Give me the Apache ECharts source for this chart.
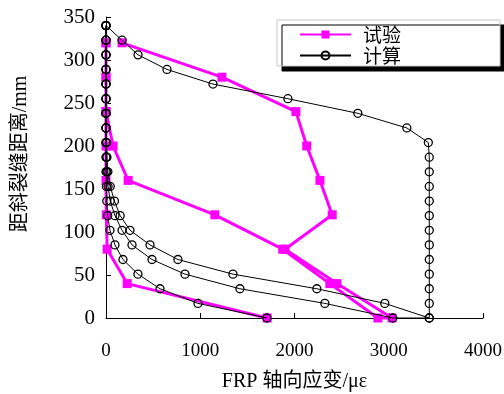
<!DOCTYPE html>
<html>
<head>
<meta charset="utf-8">
<script src="https://cdn.jsdelivr.net/npm/echarts@6/dist/echarts.min.js"></script>
<style>
  html, body { margin: 0; background: #fff; }
  #chart { width: 504px; height: 394px; }
</style>
</head>
<body>
<div id="chart"></div>
<script>
// 试验: distance from crack (mm) and FRP strain (με), three strands
const testDist = [0, 40, 80, 120, 160, 200, 240, 280, 320];
const testUp1 = [1710, 225, 12, 3, 0, 0, 0, 0, 0];
const testDown = [2885, 2375, 1875, 1155, 235, 75, 0, 0, 0];
const testUp2 = [3035, 2450, 1900, 2400, 2270, 2130, 2015, 1230, 170];

// 计算: four strands on a 17 mm step
const calcDist = [0, 17, 34, 51, 68, 85, 102, 119, 136, 153, 170, 187, 204, 221, 238, 255, 272, 289, 306, 323, 340];
const calcA = [1707, 976, 573, 339, 180, 95, 42, 18, 8, 4, 0, 0, 0, 0, 0, 0, 0, 0, 0, 0, 0];
const calcB = [3043, 2322, 1421, 838, 488, 276, 170, 95, 45, 22, 10, 4, 0, 0, 0, 0, 0, 0, 0, 0, 0];
const calcC = [3430, 2958, 2237, 1347, 763, 467, 255, 150, 90, 45, 20, 10, 5, 0, 0, 0, 0, 0, 0, 0, 0];
const calcD = [3430, 3430, 3430, 3430, 3430, 3430, 3430, 3430, 3430, 3430, 3430, 3430, 3420, 3192, 2672, 1930, 1135, 647, 340, 170, 0];

const xTicks = [0, 1000, 2000, 3000, 4000];
const yTicks = [0, 50, 100, 150, 200, 250, 300, 350];

const pairs = (xs, ys) => xs.map((x, i) => [x, ys[i]]);
const testData = [
  ...pairs(testUp1, testDist),
  ...pairs(testDown, testDist).reverse(),
  ...pairs(testUp2, testDist)
];
const calcData = [
  ...pairs(calcA, calcDist),
  ...pairs(calcB, calcDist).reverse(),
  ...pairs(calcC, calcDist),
  ...pairs(calcD, calcDist).reverse()
];

const serif = 'Liberation Serif, Noto Sans CJK SC';
const chart = echarts.init(document.getElementById('chart'));
chart.setOption({
  animation: false,
  grid: { left: 106, right: 21, top: 17, bottom: 76, outerBoundsMode: 'none' },
  legend: {
    orient: 'vertical',
    left: 277,
    top: 20,
    padding: [5, 99, 1, 22],
    itemWidth: 51,
    itemHeight: 10,
    itemGap: 2,
    backgroundColor: '#fff',
    borderColor: '#c8c8c8',
    borderWidth: 1,
    shadowColor: '#000',
    shadowBlur: 0,
    shadowOffsetX: 5,
    shadowOffsetY: 5,
    textStyle: { fontSize: 19, fontFamily: 'Noto Sans CJK SC', color: '#000', padding: [0, 0, 0, 7] },
    data: ['试验', '计算']
  },
  xAxis: {
    type: 'value',
    min: xTicks[0],
    max: xTicks[xTicks.length - 1],
    interval: xTicks[1] - xTicks[0],
    axisLine: { lineStyle: { color: '#000', width: 1 } },
    axisTick: { inside: true, length: 5, lineStyle: { color: '#000' } },
    splitLine: { show: false },
    axisLabel: { color: '#000', fontSize: 19, fontFamily: serif, margin: 24, formatter: v => String(v) },
    name: 'FRP 轴向应变/με',
    nameLocation: 'middle',
    nameGap: 54,
    nameTextStyle: { color: '#000', fontSize: 20, fontFamily: serif }
  },
  yAxis: {
    type: 'value',
    min: yTicks[0],
    max: yTicks[yTicks.length - 1],
    interval: yTicks[1] - yTicks[0],
    axisLine: { show: true, lineStyle: { color: '#000', width: 1 } },
    axisTick: { show: true, inside: true, length: 5, lineStyle: { color: '#000' } },
    splitLine: { show: false },
    axisLabel: { color: '#000', fontSize: 21, fontFamily: serif, margin: 11 },
    name: '距斜裂缝距离/mm',
    nameLocation: 'middle',
    nameGap: 75,
    nameTextStyle: { color: '#000', fontSize: 20, fontFamily: serif, padding: [0, 0, 0, 27] }
  },
  series: [
    {
      name: '试验',
      type: 'line',
      data: testData,
      clip: false,
      symbol: 'rect',
      symbolSize: 9,
      itemStyle: { color: '#ff00ff' },
      lineStyle: { color: '#ff00ff', width: 3 },
      z: 2
    },
    {
      name: '计算',
      type: 'line',
      data: calcData,
      clip: false,
      symbol: 'circle',
      symbolSize: 8,
      itemStyle: { color: 'rgba(0,0,0,0)', borderColor: '#000', borderWidth: 1.3 },
      lineStyle: { color: '#000', width: 1 },
      z: 3
    }
  ]
});
</script>
</body>
</html>
